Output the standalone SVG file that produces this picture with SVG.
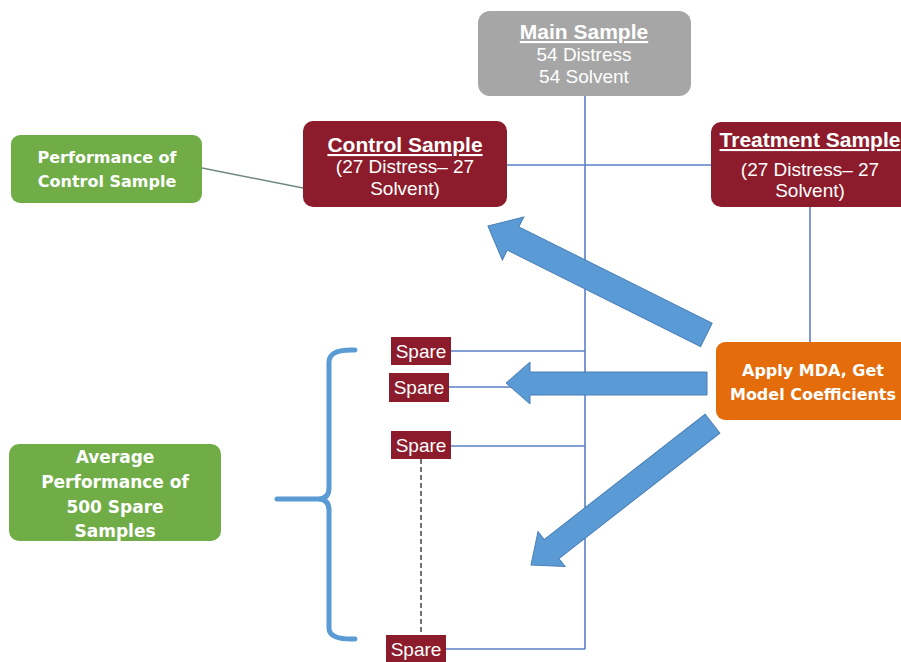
<svg xmlns="http://www.w3.org/2000/svg" width="901" height="662" viewBox="0 0 901 662">
<style>
.box text{font-family:"Liberation Sans",Arial,sans-serif;fill:#fff;text-anchor:middle}
.t{font-size:19px}
.h{font-size:21px;font-weight:bold;text-decoration:underline}
.g{font-family:"DejaVu Sans","Liberation Sans",sans-serif !important;font-weight:bold}
.ln{stroke:#5a7fc4;stroke-width:1.6;fill:none}
.arr{fill:#5b9bd5;stroke:#4a7fb8;stroke-width:1}
.red{fill:#8c1c2b}
.grn{fill:#70ad47}
.sp{font-size:19px}
</style>
<rect width="901" height="662" fill="#fff"/>
<g id="connectors">
<line class="ln" x1="585" y1="96" x2="585" y2="649"/>
<line class="ln" x1="507" y1="165" x2="711" y2="165"/>
<line class="ln" x1="810" y1="207" x2="810" y2="342"/>
<line x1="202" y1="168" x2="303" y2="188" stroke="#6f8a7a" stroke-width="1.4"/>
<line class="ln" x1="451" y1="351" x2="585" y2="351"/>
<line class="ln" x1="449" y1="387" x2="515" y2="387"/>
<line class="ln" x1="451" y1="446" x2="585" y2="446"/>
<line class="ln" x1="446" y1="649" x2="585" y2="649"/>
<line x1="421" y1="459" x2="421" y2="635" stroke="#444" stroke-width="1.5" stroke-dasharray="5,3"/>
<path d="M355,350 Q329,349 329,362 L329,488 Q329,499 318,499 L277,499 M318,499 Q329,499 329,510 L329,628 Q329,640 355,639" fill="none" stroke="#5b9bd5" stroke-width="5" stroke-linecap="round"/>
<g id="arrow-control" transform="translate(488,226) rotate(26.5)">
<polygon class="arr" points="0,0 28,-24 28,-13 244,-13 244,13 28,13 28,24"/>
</g>
<g id="arrow-spare" transform="translate(506,383)">
<polygon class="arr" points="0,0 24,-21 24,-11 201,-11 201,12 24,12 24,21"/>
</g>
<g id="arrow-down" transform="translate(531,565) rotate(-37.9)">
<polygon class="arr" points="0,0 26,-22 26,-12 230,-12 230,12 26,12 26,22"/>
</g>
</g>
<g id="main" class="box">
<rect x="478" y="11" width="213" height="85" rx="12" fill="#a6a6a6"/>
<text x="584" y="39" class="h">Main Sample</text>
<text x="584" y="61" class="t">54 Distress</text>
<text x="584" y="83" class="t">54 Solvent</text>
</g>
<g id="control" class="box">
<rect x="303" y="121" width="204" height="86" rx="10" class="red"/>
<text x="405" y="152" class="h">Control Sample</text>
<text x="405" y="173" class="t">(27 Distress– 27</text>
<text x="405" y="195" class="t">Solvent)</text>
</g>
<g id="perf-control" class="box">
<rect x="11" y="135" width="191" height="68" rx="9" class="grn"/>
<text x="107" y="163" font-size="16" class="g">Performance of</text>
<text x="107" y="187" font-size="16" class="g">Control Sample</text>
</g>
<g id="treatment" class="box">
<rect x="711" y="122" width="200" height="85" rx="10" class="red"/>
<text x="810" y="147" class="h">Treatment Sample</text>
<text x="810" y="176" class="t">(27 Distress– 27</text>
<text x="810" y="197" class="t">Solvent)</text>
</g>
<g id="mda" class="box">
<rect x="716" y="342" width="195" height="78" rx="9" fill="#e46c0a"/>
<text x="813" y="376" font-size="16" class="g">Apply MDA, Get</text>
<text x="813" y="400" font-size="16" class="g">Model Coefficients</text>
</g>
<g id="spare1" class="box">
<rect x="391" y="337" width="60" height="28" class="red"/>
<text x="421" y="358" class="sp">Spare</text>
</g>
<g id="spare2" class="box">
<rect x="389" y="373" width="60" height="29" class="red"/>
<text x="419" y="394" class="sp">Spare</text>
</g>
<g id="spare3" class="box">
<rect x="391" y="431" width="60" height="28" class="red"/>
<text x="421" y="452" class="sp">Spare</text>
</g>
<g id="spare4" class="box">
<rect x="386" y="635" width="60" height="27" class="red"/>
<text x="416" y="656" class="sp">Spare</text>
</g>
<g id="avg" class="box">
<rect x="9" y="444" width="212" height="97" rx="10" class="grn"/>
<text x="115" y="463" font-size="17" class="g">Average</text>
<text x="115" y="488" font-size="17" class="g">Performance of</text>
<text x="115" y="513" font-size="17" class="g">500 Spare</text>
<text x="115" y="537" font-size="17" class="g">Samples</text>
</g>
</svg>
